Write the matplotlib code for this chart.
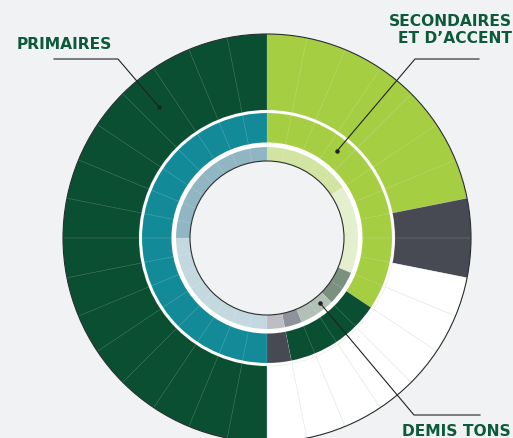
import matplotlib.pyplot as plt
from matplotlib.patches import Circle

# palette
bg = '#F1F2F4'
vert_fonce = '#0B4F33'
vert_lime = '#A6CE42'
gris_fonce = '#474A52'
blanc = '#FFFFFF'
sarcelle = '#138A98'
texte_vert = '#0D5A3A'

# each ring is split into 32 slices; values are slice counts
anneau_ext = [7, 2, 7, 16]
couleurs_ext = [vert_lime, gris_fonce, blanc, vert_fonce]

anneau_mil = [11, 4, 1, 16]
couleurs_mil = [vert_lime, vert_fonce, gris_fonce, sarcelle]

anneau_int = [5, 5, 2, 2, 1, 1, 8, 8]
couleurs_int = ['#D1E4A1', '#E3EFCE', '#7B917F', '#B3C0B5',
                '#8D929D', '#BDBEC3', '#C3D9DF', '#8FB6C2']

n_tranches = 32
etiquettes = ['PRIMAIRES', 'SECONDAIRES\nET D\u2019ACCENT', 'DEMIS TONS']

fig = plt.figure(figsize=(5.13, 4.39), dpi=100, facecolor=bg)
ax = fig.add_axes([0, 0, 1, 1])
ax.set_facecolor(bg)

# white band under the two inner rings
ax.add_patch(Circle((0, 0), 128, facecolor='white', edgecolor='none', zorder=1))


def anneau(valeurs, couleurs, r_ext, r_int, z):
    w, _ = ax.pie(valeurs, colors=couleurs, radius=r_ext, startangle=90,
                  counterclock=False,
                  wedgeprops=dict(width=r_ext - r_int, linewidth=0, edgecolor='none'))
    for p in w:
        p.set_zorder(z)
    # thin slice dividers
    d, _ = ax.pie([1] * n_tranches, radius=r_ext, startangle=90, counterclock=False,
                  wedgeprops=dict(width=r_ext - r_int, facecolor='none',
                                  edgecolor='white', linewidth=0.4, alpha=0.13))
    for p in d:
        p.set_zorder(z + 0.5)
    return w


anneau(anneau_ext, couleurs_ext, 204, 128, 2)
anneau(anneau_mil, couleurs_mil, 125, 95.5, 3)
anneau(anneau_int, couleurs_int, 91, 77, 4)

# faint dividers inside the white part of the outer ring
d, _ = ax.pie([1] * n_tranches, radius=204, startangle=90, counterclock=False,
              wedgeprops=dict(width=204 - 128, facecolor='none',
                              edgecolor='#C5D6C8', linewidth=0.4, alpha=0.35))
for i, p in enumerate(d):
    p.set_zorder(2.4)
    if not (9 <= i < 16):
        p.set_visible(False)

# outlines
ax.add_patch(Circle((0, 0), 204, facecolor='none', edgecolor='#2A2D2E', linewidth=0.8, zorder=5))
ax.add_patch(Circle((0, 0), 77, facecolor=bg, edgecolor='#2A2D2E', linewidth=0.8, zorder=5))

# labels with leader lines
kw = dict(color=texte_vert, fontsize=11.2, fontweight='bold', family='DejaVu Sans', zorder=6)
ax.text(-250, 194.5, etiquettes[0], ha='left', va='center', **kw)
ax.text(245, 209, etiquettes[1], ha='right', va='center', linespacing=1.2, **kw)
ax.text(135, -193, etiquettes[2], ha='left', va='center', **kw)

lk = dict(color='#222222', linewidth=0.8, zorder=6)
ax.plot([-213, -149, -108], [179, 179, 131], **lk)
ax.plot([212, 148, 70], [179, 179, 87], **lk)
ax.plot([53, 147, 213], [-65, -177, -177], **lk)
ax.scatter([-108, 70, 53], [131, 87, -65], s=5, color='#222222', zorder=7)

ax.set_xlim(-267, 246)
ax.set_ylim(-200, 239)
ax.set_aspect('equal')
ax.axis('off')

fig.savefig('out.png', dpi=100, facecolor=bg)
